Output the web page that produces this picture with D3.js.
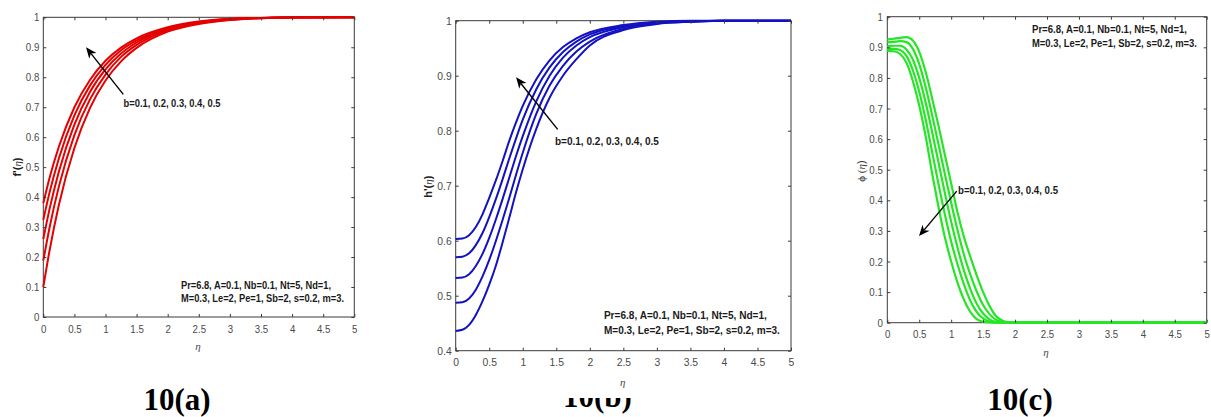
<!DOCTYPE html>
<html>
<head>
<meta charset="utf-8">
<script src="https://cdn.jsdelivr.net/npm/d3@7"></script>
<style>
  html, body { margin: 0; padding: 0; background: #fff; }
  svg { display: block; }
</style>
</head>
<body>
<svg id="fig" width="1211" height="417"></svg>
<script>
// ---- shared axis definitions ----
const bLabel = "b=0.1, 0.2, 0.3, 0.4, 0.5";
const paramLine1 = "Pr=6.8, A=0.1, Nb=0.1, Nt=5, Nd=1,";
const paramLine2 = "M=0.3, Le=2, Pe=1, Sb=2, s=0.2, m=3.";
const xTicks = [0, 0.5, 1, 1.5, 2, 2.5, 3, 3.5, 4, 4.5, 5];
const xTickLabels = ["0", "0.5", "1", "1.5", "2", "2.5", "3", "3.5", "4", "4.5", "5"];
const yTicksFull = [0, 0.1, 0.2, 0.3, 0.4, 0.5, 0.6, 0.7, 0.8, 0.9, 1];
const yTickLabelsFull = ["0", "0.1", "0.2", "0.3", "0.4", "0.5", "0.6", "0.7", "0.8", "0.9", "1"];
const yTicksB = [0.4, 0.5, 0.6, 0.7, 0.8, 0.9, 1];
const yTickLabelsB = ["0.4", "0.5", "0.6", "0.7", "0.8", "0.9", "1"];

// ---- 10(a): velocity f'(eta), one row per b = 0.1 ... 0.5 ----
const etaA = [0, 0.1, 0.25, 0.5, 0.75, 1, 1.25, 1.5, 2, 2.5, 3, 3.5, 4, 5];
const fPrimeB01 = [0.100, 0.221, 0.374, 0.564, 0.697, 0.789, 0.853, 0.898, 0.952, 0.978, 0.991, 0.997, 0.999, 1.0];
const fPrimeB02 = [0.188, 0.298, 0.435, 0.607, 0.726, 0.809, 0.868, 0.908, 0.957, 0.980, 0.992, 0.997, 0.999, 1.0];
const fPrimeB03 = [0.260, 0.360, 0.485, 0.642, 0.751, 0.826, 0.879, 0.916, 0.961, 0.982, 0.993, 0.998, 0.999, 1.0];
const fPrimeB04 = [0.324, 0.415, 0.529, 0.673, 0.772, 0.841, 0.890, 0.923, 0.964, 0.984, 0.994, 0.998, 1.0, 1.0];
const fPrimeB05 = [0.380, 0.464, 0.568, 0.700, 0.791, 0.855, 0.899, 0.930, 0.967, 0.986, 0.995, 0.998, 1.0, 1.0];

// ---- 10(b): h'(eta) ----
const etaB = [0, 0.1, 0.2, 0.3, 0.4, 0.5, 0.6, 0.7, 0.8, 0.9, 1.0, 1.2, 1.4, 1.6, 1.8, 2.0, 2.5, 3.0, 3.5, 4, 5];
const hPrimeB01 = [0.436, 0.438, 0.447, 0.465, 0.490, 0.520, 0.555, 0.597, 0.642, 0.688, 0.730, 0.803, 0.860, 0.900, 0.930, 0.955, 0.983, 0.994, 0.998, 1.0, 1.0];
const hPrimeB02 = [0.487, 0.488, 0.495, 0.511, 0.535, 0.565, 0.600, 0.638, 0.678, 0.720, 0.760, 0.830, 0.882, 0.918, 0.944, 0.962, 0.985, 0.995, 0.998, 1.0, 1.0];
const hPrimeB03 = [0.532, 0.533, 0.539, 0.554, 0.576, 0.605, 0.639, 0.676, 0.715, 0.754, 0.790, 0.853, 0.900, 0.933, 0.955, 0.970, 0.988, 0.996, 0.999, 1.0, 1.0];
const hPrimeB04 = [0.570, 0.571, 0.577, 0.592, 0.614, 0.643, 0.676, 0.712, 0.750, 0.786, 0.820, 0.875, 0.915, 0.943, 0.962, 0.975, 0.990, 0.997, 0.999, 1.0, 1.0];
const hPrimeB05 = [0.603, 0.604, 0.610, 0.625, 0.648, 0.678, 0.710, 0.745, 0.782, 0.815, 0.845, 0.893, 0.928, 0.952, 0.968, 0.979, 0.992, 0.998, 1.0, 1.0, 1.0];

// ---- 10(c): phi(eta) ----
const etaC = [0, 0.1, 0.2, 0.3, 0.4, 0.5, 0.6, 0.7, 0.8, 0.9, 1.0, 1.1, 1.2, 1.3, 1.4, 1.5, 1.6, 1.7, 1.8, 1.9, 2, 3, 4, 5];
const phiB01 = [0.925, 0.928, 0.931, 0.933, 0.922, 0.885, 0.820, 0.735, 0.645, 0.550, 0.455, 0.360, 0.280, 0.215, 0.155, 0.100, 0.055, 0.022, 0.007, 0.001, 0, 0, 0, 0];
const phiB02 = [0.916, 0.918, 0.920, 0.917, 0.895, 0.845, 0.770, 0.680, 0.585, 0.487, 0.392, 0.302, 0.222, 0.157, 0.102, 0.058, 0.028, 0.010, 0.003, 0, 0, 0, 0, 0];
const phiB03 = [0.904, 0.905, 0.905, 0.893, 0.860, 0.800, 0.720, 0.625, 0.525, 0.425, 0.330, 0.245, 0.170, 0.110, 0.062, 0.030, 0.011, 0.003, 0.001, 0, 0, 0, 0, 0];
const phiB04 = [0.895, 0.895, 0.891, 0.872, 0.825, 0.755, 0.665, 0.560, 0.455, 0.355, 0.265, 0.190, 0.125, 0.072, 0.035, 0.014, 0.004, 0.001, 0, 0, 0, 0, 0, 0];
const phiB05 = [0.888, 0.887, 0.878, 0.850, 0.790, 0.710, 0.610, 0.490, 0.380, 0.280, 0.200, 0.130, 0.075, 0.035, 0.012, 0.003, 0.001, 0, 0, 0, 0, 0, 0, 0];

const SANS = "'Liberation Sans', Arial, Helvetica, sans-serif";
const SERIF = "'Liberation Serif', 'Times New Roman', serif";
const svg = d3.select("#fig");

// Filled MATLAB-style arrow annotation, given in data coordinates
function drawArrow(g, x, y, from, to) {
  const x1 = x(from[0]), y1 = y(from[1]), x2 = x(to[0]), y2 = y(to[1]);
  const ang = Math.atan2(y2 - y1, x2 - x1);
  const L = 11, W = 4.6, notch = 3.2;
  const ux = Math.cos(ang), uy = Math.sin(ang), px = -uy, py = ux;
  const bx = x2 - ux * L, by = y2 - uy * L;
  const nx = x2 - ux * (L - notch), ny = y2 - uy * (L - notch);
  g.append("line")
    .attr("x1", x1).attr("y1", y1).attr("x2", nx).attr("y2", ny)
    .attr("stroke", "#000").attr("stroke-width", 1.4);
  g.append("path")
    .attr("d", `M${x2},${y2}L${bx + px * W},${by + py * W}L${nx},${ny}L${bx - px * W},${by - py * W}Z`)
    .attr("fill", "#000");
}

function drawPanel(cfg) {
  const g = svg.append("g");
  const x = d3.scaleLinear().domain([0, 5]).range([cfg.left, cfg.right]);
  const y = d3.scaleLinear().domain(cfg.yDomain).range([cfg.bottom, cfg.top]);
  const sx = cfg.squeeze;

  // box
  g.append("rect")
    .attr("x", cfg.left).attr("y", cfg.top)
    .attr("width", cfg.right - cfg.left).attr("height", cfg.bottom - cfg.top)
    .attr("fill", "none").attr("stroke", "#3a3a3a").attr("stroke-width", 1);

  // curves
  const line = d3.line()
    .x((d, i) => x(cfg.eta[i]))
    .y(d => y(d))
    .curve(d3.curveMonotoneX);
  cfg.series.forEach(s => {
    g.append("path").attr("d", line(s))
      .attr("fill", "none").attr("stroke", cfg.color)
      .attr("stroke-width", cfg.lineWidth).attr("stroke-linejoin", "round");
  });

  const styleAxis = sel => {
    sel.select(".domain").remove();
    sel.selectAll(".tick line").attr("stroke", "#3a3a3a").attr("stroke-width", 1);
    sel.selectAll(".tick text")
      .attr("fill", "#4a4a4a")
      .attr("font-family", SANS)
      .attr("font-size", cfg.tickFont);
  };

  // bottom axis with labels, ticks pointing inward
  g.append("g").attr("transform", `translate(0,${cfg.bottom})`)
    .call(d3.axisBottom(x).tickValues(xTicks).tickFormat((d, i) => xTickLabels[i])
      .tickSize(-3).tickPadding(cfg.xPad))
    .call(styleAxis)
    .call(s => s.selectAll(".tick text").attr("transform", `scale(${sx},1)`));

  // left axis with labels
  g.append("g").attr("transform", `translate(${cfg.left},0)`)
    .call(d3.axisLeft(y).tickValues(cfg.yTicks).tickFormat((d, i) => cfg.yTickLabels[i])
      .tickSize(-3).tickPadding(cfg.yPad))
    .call(styleAxis)
    .call(s => s.selectAll(".tick text")
      .attr("x", -cfg.yPad / sx)
      .attr("transform", `scale(${sx},1)`));

  // top and right axes: ticks only
  g.append("g").attr("transform", `translate(0,${cfg.top})`)
    .call(d3.axisTop(x).tickValues(xTicks).tickFormat("").tickSize(-3))
    .call(styleAxis);
  g.append("g").attr("transform", `translate(${cfg.right},0)`)
    .call(d3.axisRight(y).tickValues(cfg.yTicks).tickFormat("").tickSize(-3))
    .call(styleAxis);

  // x label
  g.append("text")
    .attr("x", cfg.xLabelPos[0]).attr("y", cfg.xLabelPos[1])
    .attr("text-anchor", "middle")
    .attr("font-family", SERIF).attr("font-style", "italic")
    .attr("font-size", 11).attr("fill", "#4a4a4a")
    .text("η");

  // y label
  const yl = g.append("text")
    .attr("transform", `translate(${cfg.yLabelPos[0]},${cfg.yLabelPos[1]}) rotate(-90)`)
    .attr("text-anchor", "middle")
    .attr("font-size", 11).attr("fill", cfg.yLabelColor);
  yl.append("tspan").attr("font-family", cfg.yLabelFont).attr("font-weight", cfg.yLabelWeight)
    .text(cfg.yLabelPre);
  yl.append("tspan").attr("font-family", SERIF).attr("font-style", "italic").text("η");
  yl.append("tspan").attr("font-family", SANS).attr("font-weight", cfg.yLabelWeight).text(")");

  // arrow + b label
  drawArrow(g, x, y, cfg.arrowFrom, cfg.arrowTo);
  const addText = (pos, str, len) => g.append("text")
    .attr("x", x(pos[0])).attr("y", y(pos[1]))
    .attr("font-family", SANS).attr("font-weight", "bold")
    .attr("font-size", cfg.noteFont).attr("fill", "#1a1a1a")
    .attr("textLength", len).attr("lengthAdjust", "spacingAndGlyphs")
    .text(str);
  addText(cfg.bLabelPos, bLabel, cfg.bLabelLen);
  addText(cfg.paramPos1, paramLine1, cfg.paramLen1);
  addText(cfg.paramPos2, paramLine2, cfg.paramLen2);
}

drawPanel({
  left: 43.3, right: 354.3, top: 17.3, bottom: 317,
  yDomain: [0, 1], yTicks: yTicksFull, yTickLabels: yTickLabelsFull,
  eta: etaA, series: [fPrimeB01, fPrimeB02, fPrimeB03, fPrimeB04, fPrimeB05],
  color: "#e50000", lineWidth: 2,
  squeeze: 0.88, tickFont: 11, xPad: 8, yPad: 4,
  xLabelPos: [198, 350], yLabelPos: [21, 167],
  yLabelPre: "f'(", yLabelFont: SANS, yLabelWeight: "bold", yLabelColor: "#222",
  arrowFrom: [1.286, 0.743], arrowTo: [0.687, 0.90],
  noteFont: 10, bLabelPos: [1.29, 0.702], bLabelLen: 97,
  paramPos1: [2.214, 0.094], paramLen1: 150,
  paramPos2: [2.214, 0.05], paramLen2: 163
});

drawPanel({
  left: 455.7, right: 791, top: 20.7, bottom: 350.7,
  yDomain: [0.4, 1], yTicks: yTicksB, yTickLabels: yTickLabelsB,
  eta: etaB, series: [hPrimeB01, hPrimeB02, hPrimeB03, hPrimeB04, hPrimeB05],
  color: "#1212c4", lineWidth: 2,
  squeeze: 0.9, tickFont: 11.5, xPad: 7.5, yPad: 4,
  xLabelPos: [622.7, 386], yLabelPos: [432, 186.7],
  yLabelPre: "h'(", yLabelFont: SANS, yLabelWeight: "bold", yLabelColor: "#222",
  arrowFrom: [1.52, 0.8025], arrowTo: [0.90, 0.897],
  noteFont: 10.5, bLabelPos: [1.48, 0.774], bLabelLen: 104,
  paramPos1: [2.21, 0.457], paramLen1: 163,
  paramPos2: [2.21, 0.43], paramLen2: 176
});

drawPanel({
  left: 887.3, right: 1206.7, top: 16.7, bottom: 322.7,
  yDomain: [0, 1], yTicks: yTicksFull, yTickLabels: yTickLabelsFull,
  eta: etaC, series: [phiB01, phiB02, phiB03, phiB04, phiB05],
  color: "#25e625", lineWidth: 2.2,
  squeeze: 0.88, tickFont: 11, xPad: 7.5, yPad: 4.5,
  xLabelPos: [1046, 356], yLabelPos: [865, 171],
  yLabelPre: "ϕ (", yLabelFont: SERIF, yLabelWeight: "normal", yLabelColor: "#333",
  arrowFrom: [1.087, 0.43], arrowTo: [0.496, 0.283],
  noteFont: 10, bLabelPos: [1.107, 0.42], bLabelLen: 100,
  paramPos1: [2.265, 0.946], paramLen1: 155,
  paramPos2: [2.265, 0.902], paramLen2: 165
});

// ---- figure captions ----
const captions = [
  { text: "10(a)", x: 177, y: 410, clipTop: 0 },
  { text: "10(b)", x: 597.5, y: 407, clipTop: 398 },
  { text: "10(c)", x: 1020, y: 410, clipTop: 0 }
];
const defs = svg.append("defs");
captions.forEach((c, i) => {
  defs.append("clipPath").attr("id", "capclip" + i)
    .append("rect").attr("x", 0).attr("y", c.clipTop).attr("width", 1211).attr("height", 417 - c.clipTop);
  svg.append("text")
    .attr("x", c.x).attr("y", c.y)
    .attr("clip-path", `url(#capclip${i})`)
    .attr("text-anchor", "middle")
    .attr("font-family", SERIF).attr("font-weight", "bold")
    .attr("font-size", 31).attr("fill", "#000")
    .text(c.text);
});
</script>
</body>
</html>
